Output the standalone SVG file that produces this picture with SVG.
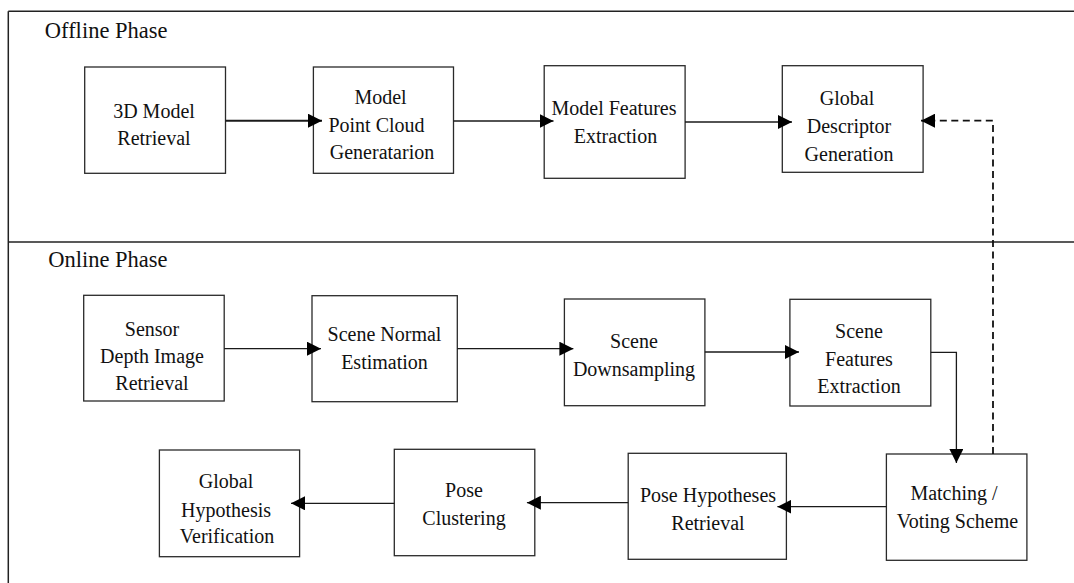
<svg xmlns="http://www.w3.org/2000/svg" width="1074" height="583" viewBox="0 0 1074 583">
<style>
  .frame { fill: none; stroke: #222; stroke-width: 1.5; }
  .box { fill: #fff; stroke: #2a2a2a; stroke-width: 1.3; }
  .lbl { font-family: "Liberation Serif", "Times New Roman", serif; font-size: 20px; fill: #111; text-anchor: middle; }
  .phase { font-family: "Liberation Serif", "Times New Roman", serif; font-size: 22.5px; fill: #111; }
  .conn { fill: none; stroke: #1a1a1a; stroke-width: 1.3; marker-end: url(#arr); }
  .thick { stroke-width: 2; }
  .dash { fill: none; stroke: #111; stroke-width: 1.8; stroke-dasharray: 7 4.5; marker-end: url(#arr); }
</style>
<defs>
  <marker id="arr" markerUnits="userSpaceOnUse" markerWidth="14" markerHeight="14" refX="13" refY="6.5" orient="auto" viewBox="0 0 13 13">
    <path d="M0,0 L13,6.5 L0,13 Z" fill="#000"/>
  </marker>
</defs>
<rect width="1074" height="583" fill="#fff"/>
<g id="frame">
  <line class="frame" x1="8.3" y1="11.3" x2="1074" y2="11.3"/>
  <line class="frame" x1="8.3" y1="11.3" x2="8.3" y2="583"/>
  <line class="frame" x1="8.3" y1="242" x2="1074" y2="242"/>
  <text class="phase" x="44.8" y="38.3">Offline Phase</text>
  <text class="phase" x="48.2" y="266.7">Online Phase</text>
</g>
<g id="n-3d-model-retrieval">
  <rect class="box" x="84.7" y="67" width="140.8" height="106.3"/>
  <text class="lbl" x="154" y="118">3D Model</text>
  <text class="lbl" x="154" y="144.5">Retrieval</text>
</g>
<g id="n-model-point-cloud">
  <rect class="box" x="313.4" y="67" width="140.1" height="106.3"/>
  <text class="lbl" x="380.5" y="104">Model</text>
  <text class="lbl" x="376.5" y="132">Point Cloud</text>
  <text class="lbl" x="382" y="159.3">Generatarion</text>
</g>
<g id="n-model-features">
  <rect class="box" x="544.2" y="65.7" width="140.9" height="112.6"/>
  <text class="lbl" x="614" y="115">Model Features</text>
  <text class="lbl" x="615.5" y="143.3">Extraction</text>
</g>
<g id="n-global-descriptor">
  <rect class="box" x="782.3" y="65.7" width="140.8" height="106.6"/>
  <text class="lbl" x="847" y="105.3">Global</text>
  <text class="lbl" x="849" y="133.3">Descriptor</text>
  <text class="lbl" x="849" y="160.7">Generation</text>
</g>
<g id="n-sensor-depth">
  <rect class="box" x="83.7" y="295.3" width="140.5" height="105.7"/>
  <text class="lbl" x="152" y="335.7">Sensor</text>
  <text class="lbl" x="152" y="363.3">Depth Image</text>
  <text class="lbl" x="152" y="390.3">Retrieval</text>
</g>
<g id="n-scene-normal">
  <rect class="box" x="312" y="295.7" width="145.3" height="106"/>
  <text class="lbl" x="384.5" y="341">Scene Normal</text>
  <text class="lbl" x="384.5" y="369">Estimation</text>
</g>
<g id="n-scene-downsampling">
  <rect class="box" x="564.4" y="299" width="140.5" height="106.7"/>
  <text class="lbl" x="634" y="348.3">Scene</text>
  <text class="lbl" x="634" y="376">Downsampling</text>
</g>
<g id="n-scene-features">
  <rect class="box" x="789.9" y="299.3" width="140.9" height="106.7"/>
  <text class="lbl" x="859" y="338.3">Scene</text>
  <text class="lbl" x="859" y="366">Features</text>
  <text class="lbl" x="859" y="392.7">Extraction</text>
</g>
<g id="n-matching-voting">
  <rect class="box" x="886.4" y="454" width="140.5" height="106.3"/>
  <text class="lbl" x="954" y="500">Matching /</text>
  <text class="lbl" x="957.5" y="528.3">Voting Scheme</text>
</g>
<g id="n-pose-hypotheses">
  <rect class="box" x="628.2" y="453.3" width="158.2" height="106"/>
  <text class="lbl" x="708" y="501.7">Pose Hypotheses</text>
  <text class="lbl" x="708" y="530">Retrieval</text>
</g>
<g id="n-pose-clustering">
  <rect class="box" x="394.3" y="449.3" width="140.5" height="106.4"/>
  <text class="lbl" x="464" y="497.3">Pose</text>
  <text class="lbl" x="464" y="525">Clustering</text>
</g>
<g id="n-global-hypothesis">
  <rect class="box" x="159.4" y="450" width="140.2" height="106.7"/>
  <text class="lbl" x="226" y="488.3">Global</text>
  <text class="lbl" x="226" y="516.7">Hypothesis</text>
  <text class="lbl" x="227" y="543.3">Verification</text>
</g>
<g id="connectors">
  <line class="conn thick" x1="225.5" y1="120.7" x2="322" y2="120.7"/>
  <line class="conn" x1="453.5" y1="121" x2="553.5" y2="121"/>
  <line class="conn" x1="685" y1="122" x2="792" y2="122"/>
  <polyline class="dash" points="993,454 993,120.7 921,120.7"/>
  <line class="conn" x1="224.2" y1="348.7" x2="321" y2="348.7"/>
  <line class="conn" x1="457.3" y1="348.7" x2="573.4" y2="348.7"/>
  <line class="conn" x1="704.9" y1="352" x2="799" y2="352"/>
  <polyline class="conn" points="930.8,352.3 956.4,352.3 956.4,463"/>
  <line class="conn" x1="886.4" y1="506.7" x2="777.4" y2="506.7"/>
  <line class="conn" x1="628.2" y1="502.7" x2="526.9" y2="502.7"/>
  <line class="conn" x1="394.3" y1="503.3" x2="291" y2="503.3"/>
</g>
</svg>
